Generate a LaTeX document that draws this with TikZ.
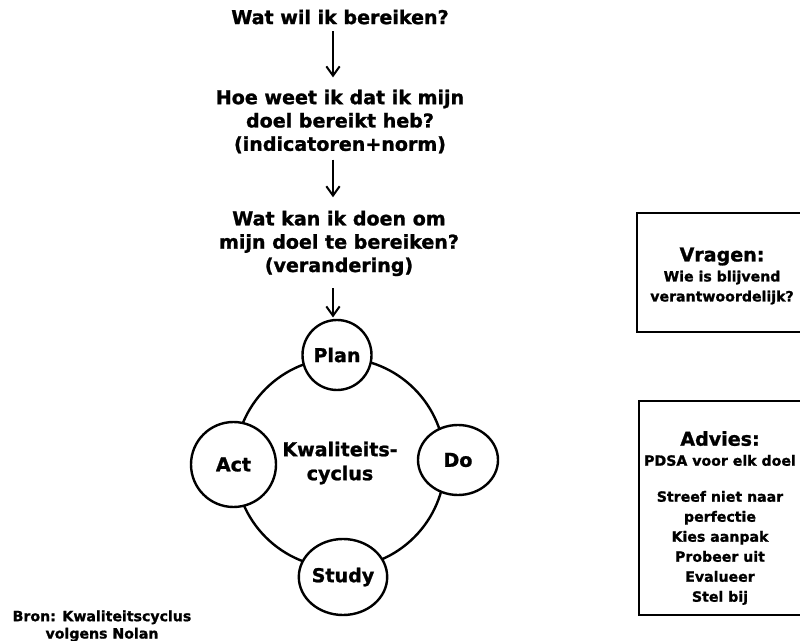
\documentclass[tikz,border=0pt]{standalone}
\usepackage{fontspec}
\setmainfont{DejaVu Sans}[BoldFeatures={FakeBold=1.2}]
\usetikzlibrary{arrows.meta,shapes.geometric}
\begin{document}
\begin{tikzpicture}[x=0.75pt,y=-0.75pt,
  q/.style={align=center,inner sep=0pt,font=\fontsize{14.3}{17.5}\selectfont\bfseries},
  arr/.style={line width=1.5pt,-{Straight Barb[length=7pt,width=10pt,line width=1.5pt]}},
  ring/.style={circle,draw,line width=1.8pt,minimum size=157.5pt,inner sep=0pt,align=center,font=\fontsize{14.3}{18}\selectfont\bfseries},
  phase/.style={ellipse,draw,fill=white,line width=1.8pt,inner sep=0pt,font=\fontsize{14.3}{17}\selectfont\bfseries},
  infobox/.style={draw,line width=2.2pt,rectangle,inner sep=0pt},
  small/.style={align=center,inner sep=0pt,font=\fontsize{10.6}{15}\selectfont\bfseries},
  bron/.style={align=center,inner sep=0pt,font=\fontsize{10.6}{13}\selectfont\bfseries}]
\clip (0,0) rectangle (800,641);
\fill[white] (0,0) rectangle (800,641);

% questions
\node[q] (t1) at (340,17) {Wat wil ik bereiken?};
\node[q] (t2) at (340,121.5) {Hoe weet ik dat ik mijn\\doel bereikt heb?\\(indicatoren+norm)};
\node[q] (t3) at (339,243.5) {Wat kan ik doen om\\mijn doel te bereiken?\\(verandering)};

% cycle
\node[ring] (cyc) at (340,463) {Kwaliteits-\\cyclus};
\node[phase,minimum width=51.75pt,minimum height=52.5pt] (plan) at (337,355) {Plan};
\node[phase,minimum width=63.75pt,minimum height=63.75pt] (act) at (233.5,464.5) {Act};
\node[phase,minimum width=60pt,minimum height=52.5pt] (do) at (458,460) {Do};
\node[phase,minimum width=66pt,minimum height=57pt] (study) at (343,577) {Study};

% arrows
\draw[arr,shorten <=5pt,shorten >=9pt] ([xshift=-5.25pt]t1.south) -- ([xshift=-5.25pt]t1.south |- t2.north);
\draw[arr,shorten <=4.5pt,shorten >=10pt] ([xshift=-5.25pt]t2.south) -- ([xshift=-5.25pt]t2.south |- t3.north);
\draw[arr,shorten <=9pt,shorten >=1pt] ([xshift=-4.5pt]t3.south) -- ([xshift=-4.5pt]t3.south |- plan.north);

% boxes
\node[infobox,minimum width=127.5pt,minimum height=89.25pt] (vbox) at (722,272.5) {};
\node[small] (vtext) at (722,276) {{\fontsize{14.3}{15}\selectfont Vragen:}\\Wie is blijvend\\verantwoordelijk?};
\node[infobox,minimum width=126pt,minimum height=160.5pt] (abox) at (723,508) {};
\node[small] (atext) at (720,518) {{\fontsize{14.3}{15}\selectfont Advies:}\\PDSA voor elk doel\\[12pt]Streef niet naar\\perfectie\\Kies aanpak\\Probeer uit\\Evalueer\\Stel bij};

% source
\node[bron] (src) at (102,626) {Bron: Kwaliteitscyclus\\volgens Nolan};
\end{tikzpicture}
\end{document}
